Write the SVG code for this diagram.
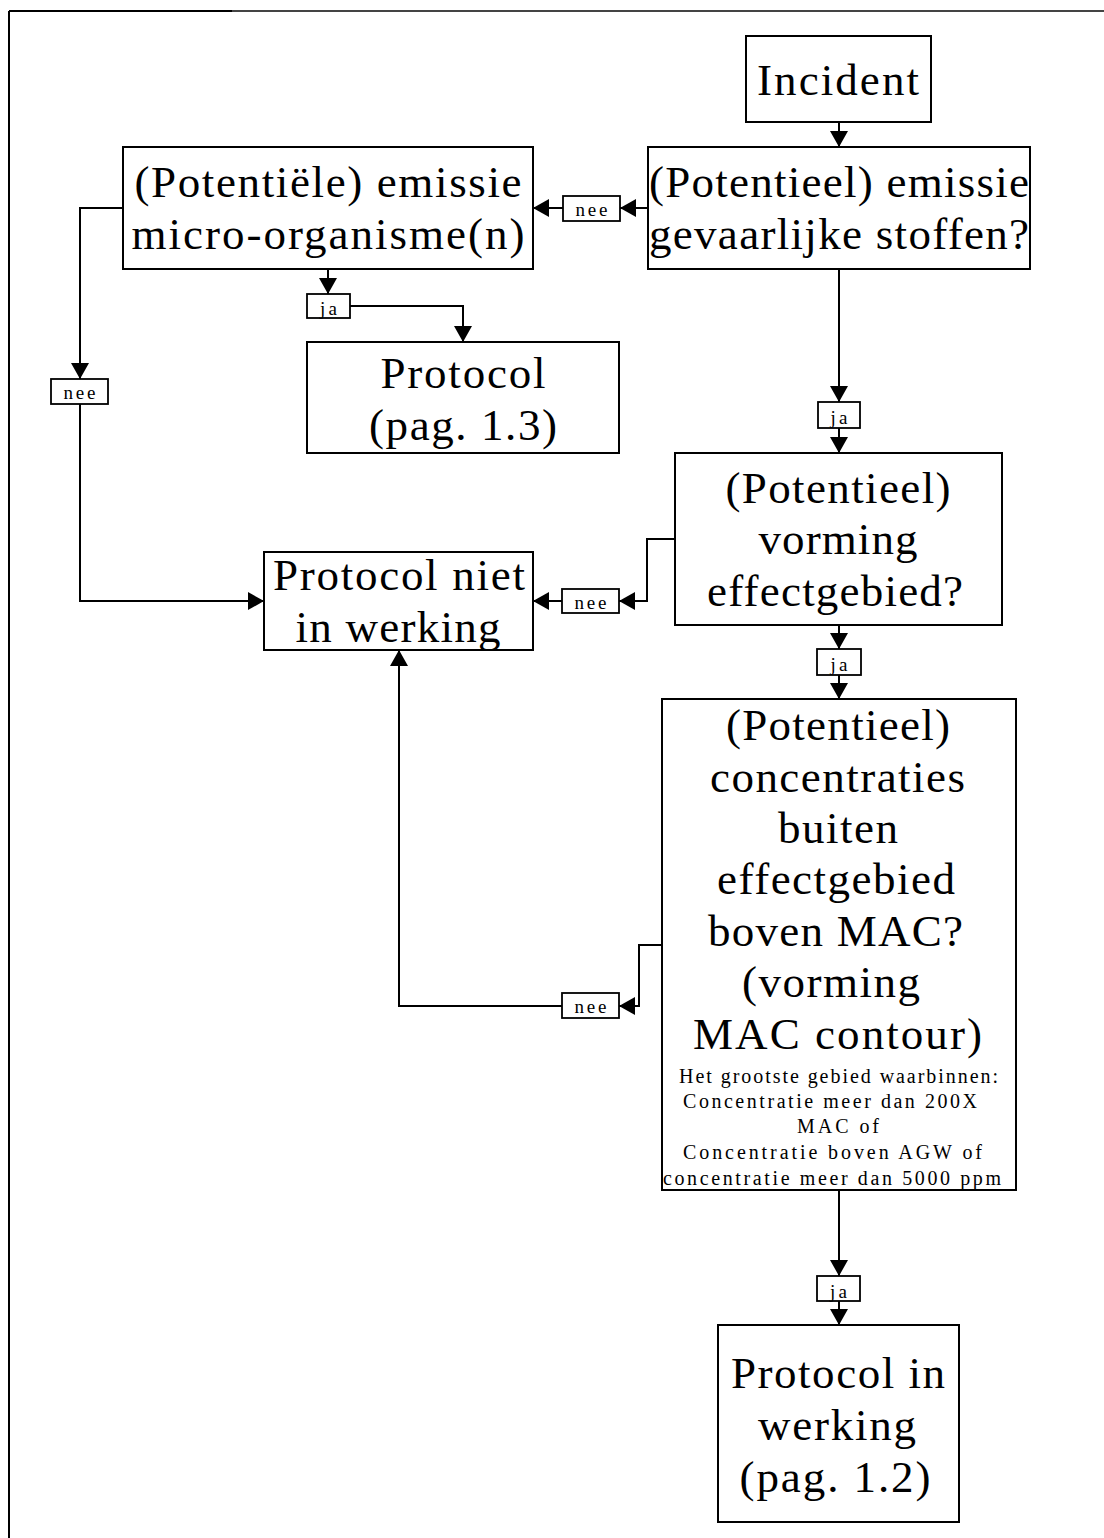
<svg xmlns="http://www.w3.org/2000/svg" width="1104" height="1538" viewBox="0 0 1104 1538">
<style>
.box{fill:#fff;stroke:#000;stroke-width:2}
.lbl{fill:#fff;stroke:#000;stroke-width:1.8}
.ln{fill:none;stroke:#000;stroke-width:2}
.big{font-family:"Liberation Serif","Times New Roman",serif;font-size:45px;text-anchor:middle;fill:#000}
.sm{font-family:"Liberation Serif","Times New Roman",serif;font-size:20px;text-anchor:middle;fill:#000}
.tag{font-family:"Liberation Serif","Times New Roman",serif;font-size:19px;text-anchor:middle;fill:#000}
</style>
<defs>
<marker id="ah" viewBox="0 0 16 18" refX="16" refY="9" markerWidth="16" markerHeight="18" markerUnits="userSpaceOnUse" orient="auto">
<path d="M0,0 L16,9 L0,18 z" fill="#000"/>
</marker>
</defs>
<rect x="0" y="0" width="1104" height="1538" fill="#fff"/>
<g id="frame">
<line x1="9" y1="11" x2="232" y2="11" stroke="#000" stroke-width="2"/>
<line x1="232" y1="11" x2="1104" y2="11" stroke="#444" stroke-width="2"/>
<line x1="9" y1="11" x2="9" y2="1538" stroke="#000" stroke-width="2"/>
</g>
<g id="connectors">
<line class="ln" x1="839" y1="122" x2="839" y2="147" marker-end="url(#ah)"/>
<line class="ln" x1="648" y1="208" x2="620" y2="208" marker-end="url(#ah)"/>
<line class="ln" x1="563" y1="208" x2="533" y2="208" marker-end="url(#ah)"/>
<line class="ln" x1="328" y1="269" x2="328" y2="294" marker-end="url(#ah)"/>
<polyline class="ln" points="350,306 463,306 463,342" marker-end="url(#ah)"/>
<polyline class="ln" points="123,208 80,208 80,379" marker-end="url(#ah)"/>
<polyline class="ln" points="80,404 80,601 264,601" marker-end="url(#ah)"/>
<line class="ln" x1="839" y1="269" x2="839" y2="402" marker-end="url(#ah)"/>
<line class="ln" x1="839" y1="428" x2="839" y2="453" marker-end="url(#ah)"/>
<polyline class="ln" points="675,539 647,539 647,601 619,601" marker-end="url(#ah)"/>
<line class="ln" x1="562" y1="601" x2="533" y2="601" marker-end="url(#ah)"/>
<line class="ln" x1="839" y1="625" x2="839" y2="649" marker-end="url(#ah)"/>
<line class="ln" x1="839" y1="675" x2="839" y2="699" marker-end="url(#ah)"/>
<polyline class="ln" points="662,945 639,945 639,1006 619,1006" marker-end="url(#ah)"/>
<polyline class="ln" points="562,1006 399,1006 399,650" marker-end="url(#ah)"/>
<line class="ln" x1="839" y1="1190" x2="839" y2="1276" marker-end="url(#ah)"/>
<line class="ln" x1="839" y1="1301" x2="839" y2="1325" marker-end="url(#ah)"/>
</g>
<g id="labels">
<g id="lbl-nee-1"><rect class="lbl" x="563" y="196" width="57" height="25"/><text class="tag" x="591.5" y="216" textLength="32">nee</text></g>
<g id="lbl-ja-1"><rect class="lbl" x="307" y="294" width="43" height="24"/><text class="tag" x="328.5" y="315" textLength="17">ja</text></g>
<g id="lbl-nee-2"><rect class="lbl" x="51" y="379" width="57" height="25"/><text class="tag" x="79.5" y="399" textLength="32">nee</text></g>
<g id="lbl-ja-2"><rect class="lbl" x="818" y="402" width="42" height="26"/><text class="tag" x="839" y="424" textLength="17">ja</text></g>
<g id="lbl-nee-3"><rect class="lbl" x="562" y="589" width="57" height="24"/><text class="tag" x="590.5" y="609" textLength="32">nee</text></g>
<g id="lbl-ja-3"><rect class="lbl" x="817" y="649" width="44" height="26"/><text class="tag" x="839" y="671" textLength="17">ja</text></g>
<g id="lbl-nee-4"><rect class="lbl" x="562" y="993" width="57" height="25"/><text class="tag" x="590.5" y="1013" textLength="32">nee</text></g>
<g id="lbl-ja-4"><rect class="lbl" x="817" y="1276" width="43" height="25"/><text class="tag" x="838.5" y="1298" textLength="17">ja</text></g>
</g>
<g id="incident">
<rect class="box" x="746" y="36" width="185" height="86"/>
<text class="big" x="838" y="95" textLength="162">Incident</text>
</g>
<g id="emissie-gevaarlijk">
<rect class="box" x="648" y="147" width="382" height="122"/>
<text class="big" x="839" y="197" textLength="380">(Potentieel) emissie</text>
<text class="big" x="839" y="249" textLength="380">gevaarlijke stoffen?</text>
</g>
<g id="emissie-micro">
<rect class="box" x="123" y="147" width="410" height="122"/>
<text class="big" x="328" y="197" textLength="387">(Potentiële) emissie</text>
<text class="big" x="328" y="249" textLength="393">micro-organisme(n)</text>
</g>
<g id="protocol-13">
<rect class="box" x="307" y="342" width="312" height="111"/>
<text class="big" x="463" y="388" textLength="165">Protocol</text>
<text class="big" x="463" y="440" textLength="188">(pag. 1.3)</text>
</g>
<g id="protocol-niet">
<rect class="box" x="264" y="552" width="269" height="98"/>
<text class="big" x="399" y="590" textLength="252">Protocol niet</text>
<text class="big" x="398" y="642" textLength="205">in werking</text>
</g>
<g id="vorming-effectgebied">
<rect class="box" x="675" y="453" width="327" height="172"/>
<text class="big" x="838" y="503" textLength="225">(Potentieel)</text>
<text class="big" x="838" y="554" textLength="159">vorming</text>
<text class="big" x="835" y="606" textLength="256">effectgebied?</text>
</g>
<g id="concentraties">
<rect class="box" x="662" y="699" width="354" height="491"/>
<text class="big" x="838" y="740" textLength="224">(Potentieel)</text>
<text class="big" x="837.5" y="792" textLength="255">concentraties</text>
<text class="big" x="838" y="843" textLength="120">buiten</text>
<text class="big" x="836" y="894" textLength="238">effectgebied</text>
<text class="big" x="835.5" y="946" textLength="255">boven MAC?</text>
<text class="big" x="831" y="997" textLength="178">(vorming</text>
<text class="big" x="837.5" y="1049" textLength="289">MAC contour)</text>
<text class="sm" x="838.5" y="1083" textLength="319">Het grootste gebied waarbinnen:</text>
<text class="sm" x="830" y="1108" textLength="294">Concentratie meer dan 200X</text>
<text class="sm" x="838" y="1133" textLength="82">MAC of</text>
<text class="sm" x="832.5" y="1159" textLength="299">Concentratie boven AGW of</text>
<text class="sm" x="832" y="1185" textLength="338">concentratie meer dan 5000 ppm</text>
</g>
<g id="protocol-in-werking">
<rect class="box" x="718" y="1325" width="241" height="197"/>
<text class="big" x="838" y="1388" textLength="214">Protocol in</text>
<text class="big" x="837" y="1440" textLength="158">werking</text>
<text class="big" x="835" y="1492" textLength="191">(pag. 1.2)</text>
</g>
</svg>
